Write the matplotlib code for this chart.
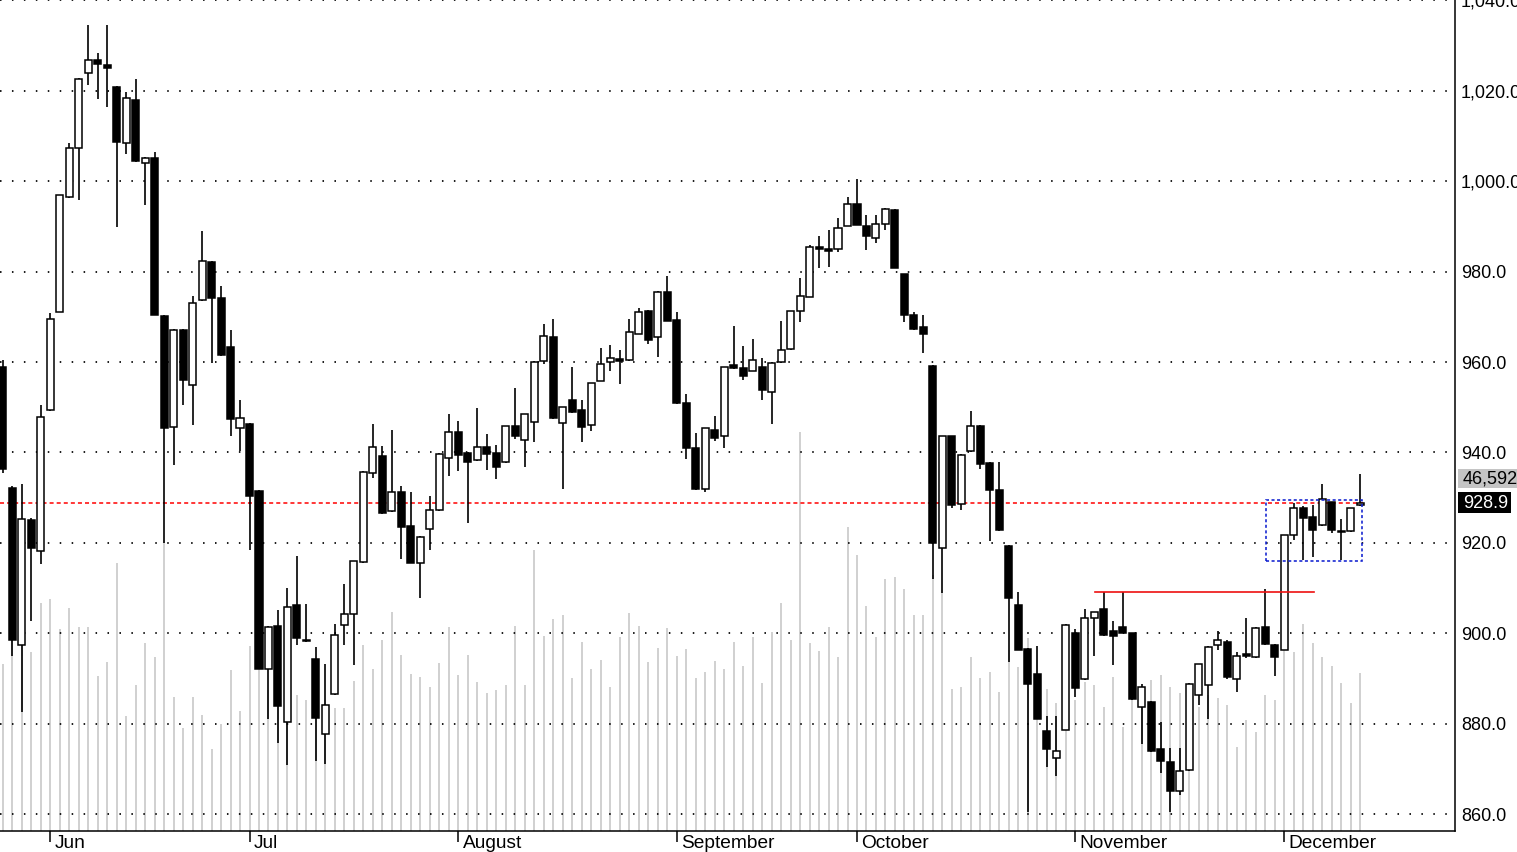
import matplotlib
matplotlib.use('Agg')
import matplotlib.pyplot as plt
from matplotlib.patches import Rectangle
from matplotlib.transforms import blended_transform_factory, ScaledTranslation

plt.rcParams['font.family'] = ['Liberation Sans', 'DejaVu Sans']
plt.rcParams['lines.scale_dashes'] = False

opens = [959.0, 932.2, 897.5, 925.1, 918.3, 949.4, 971.1, 996.6, 1007.4, 1023.9,
 1026.9, 1025.7, 1020.9, 1008.4, 1018.0, 1004.1, 1005.2, 970.1, 945.7, 967.2,
 955.0, 973.8, 982.1, 974.2, 963.4, 945.3, 946.4, 931.4, 892.2, 901.7,
 880.4, 906.3, 898.5, 894.4, 877.8, 886.5, 901.9, 904.3, 915.8, 935.5,
 939.3, 927.0, 931.3, 923.7, 915.6, 923.0, 927.2, 938.8, 944.5, 939.9,
 938.4, 941.2, 939.9, 937.8, 945.8, 942.8, 946.8, 960.3, 965.6, 946.5,
 951.6, 949.3, 946.1, 955.9, 960.0, 960.4, 960.4, 966.3, 971.3, 965.6,
 975.6, 969.3, 951.0, 941.0, 931.9, 945.0, 943.6, 959.4, 958.7, 958.1,
 958.8, 953.4, 960.0, 962.9, 971.3, 974.5, 985.5, 985.1, 985.1, 990.1,
 994.9, 990.1, 987.5, 990.5, 993.6, 979.4, 970.5, 967.7, 959.2, 918.9,
 943.6, 928.6, 940.3, 945.9, 937.7, 931.6, 919.4, 906.2, 896.6, 890.9,
 878.3, 872.5, 878.6, 900.1, 889.8, 903.3, 905.3, 900.4, 901.3, 900.0,
 883.6, 884.9, 874.5, 871.5, 865.1, 869.7, 886.4, 888.5, 897.3, 898.0,
 889.8, 895.4, 894.7, 901.3, 897.5, 896.4, 921.7, 927.6, 925.7, 923.9,
 929.0, 922.7, 922.6, 928.3]

highs = [960.5, 932.5, 933.0, 925.5, 950.5, 970.9, 997.0, 1008.5, 1022.9, 1034.5,
 1028.3, 1034.5, 1021.0, 1019.7, 1022.7, 1005.4, 1006.5, 970.3, 967.3, 967.4,
 974.6, 989.1, 982.3, 976.8, 967.1, 951.6, 946.6, 931.6, 901.7, 905.2,
 910.0, 917.1, 906.4, 897.0, 893.2, 902.1, 910.8, 916.0, 936.0, 946.3,
 941.4, 944.9, 932.5, 931.3, 921.5, 930.3, 939.8, 948.4, 946.9, 940.0,
 949.8, 944.0, 941.6, 945.9, 954.3, 948.5, 960.2, 968.5, 969.6, 950.1,
 959.0, 951.6, 955.4, 963.0, 963.7, 962.7, 969.6, 972.0, 971.5, 975.7,
 979.0, 971.0, 953.0, 944.2, 945.4, 948.1, 959.0, 967.9, 963.5, 965.1,
 960.9, 960.0, 969.1, 971.4, 978.7, 986.0, 987.9, 989.2, 991.9, 996.5,
 1000.5, 992.6, 992.6, 994.0, 993.8, 979.5, 971.0, 970.5, 959.3, 943.7,
 943.7, 939.6, 949.2, 946.0, 937.8, 937.9, 919.5, 909.1, 896.7, 897.2,
 881.7, 881.7, 902.0, 900.9, 905.4, 904.8, 909.1, 902.6, 909.1, 900.1,
 888.8, 885.0, 880.3, 874.7, 874.7, 889.0, 893.2, 897.1, 900.5, 898.5,
 895.8, 903.3, 901.3, 909.9, 897.6, 921.8, 928.8, 928.1, 928.3, 933.0,
 929.1, 925.3, 927.7, 935.3]

lows = [935.5, 895.0, 882.5, 902.7, 915.4, 949.2, 971.0, 996.4, 995.8, 1021.2,
 1018.3, 1016.5, 989.8, 1006.0, 1004.2, 994.8, 970.3, 920.0, 937.3, 950.6,
 946.0, 973.6, 959.9, 961.3, 943.7, 940.3, 918.4, 892.0, 881.0, 875.7,
 870.9, 897.3, 898.0, 871.7, 871.1, 886.3, 897.5, 893.0, 915.6, 934.4,
 926.4, 926.8, 916.5, 915.5, 907.9, 918.5, 927.0, 934.7, 935.8, 924.4,
 938.2, 936.1, 934.2, 937.7, 943.0, 936.7, 942.3, 959.6, 947.5, 932.0,
 948.8, 942.4, 944.8, 955.8, 958.1, 955.2, 960.3, 966.2, 964.1, 961.1,
 969.0, 950.8, 938.5, 931.8, 931.3, 942.6, 940.9, 958.5, 956.0, 958.0,
 951.7, 946.4, 959.9, 962.6, 968.8, 974.4, 980.7, 981.1, 984.4, 990.0,
 990.3, 984.8, 986.4, 989.3, 980.8, 968.8, 967.1, 962.0, 911.9, 908.8,
 927.7, 927.2, 940.2, 936.4, 920.5, 922.7, 893.7, 896.2, 860.4, 881.0,
 870.5, 868.5, 878.5, 885.8, 889.7, 894.9, 899.5, 892.9, 900.0, 885.3,
 875.5, 873.8, 869.0, 860.4, 864.2, 869.6, 884.1, 881.0, 896.4, 889.8,
 887.0, 894.5, 894.6, 897.5, 890.5, 896.3, 920.6, 916.2, 916.9, 923.8,
 922.1, 916.2, 922.5, 928.2]

closes = [936.3, 898.4, 925.3, 918.9, 947.8, 969.5, 996.9, 1007.4, 1022.7, 1026.9,
 1025.9, 1025.0, 1008.7, 1018.5, 1004.4, 1005.2, 970.5, 945.4, 967.1, 956.0,
 973.1, 982.4, 974.1, 961.5, 947.3, 947.7, 930.4, 892.2, 901.3, 883.9,
 905.9, 898.9, 898.2, 881.3, 884.2, 899.7, 904.3, 915.9, 935.7, 941.3,
 926.5, 931.3, 923.5, 915.6, 921.3, 927.2, 939.6, 944.5, 939.5, 937.8,
 941.2, 939.7, 936.7, 945.8, 943.7, 948.4, 960.1, 965.7, 947.6, 950.0,
 948.9, 945.6, 955.3, 959.6, 960.9, 960.3, 966.7, 971.0, 964.8, 975.6,
 969.1, 950.9, 940.9, 931.9, 945.3, 943.2, 958.9, 958.7, 957.0, 960.4,
 953.8, 959.8, 962.7, 971.3, 974.6, 985.5, 985.1, 984.6, 989.6, 994.9,
 990.4, 987.9, 990.5, 993.8, 980.9, 970.3, 967.3, 966.3, 919.9, 943.6,
 928.3, 939.5, 945.9, 937.5, 931.8, 922.8, 907.9, 896.3, 888.7, 881.1,
 874.5, 874.0, 901.8, 887.8, 903.4, 904.6, 899.6, 899.3, 900.1, 885.4,
 888.2, 873.9, 871.7, 865.1, 869.5, 888.8, 893.1, 897.0, 898.5, 890.3,
 895.0, 894.9, 901.2, 897.7, 894.7, 921.7, 927.6, 925.5, 922.8, 929.6,
 922.9, 922.4, 927.6, 928.9]

volumes = [49300, 63700, 56300, 52800, 67300, 68400, 59600, 65800, 60200, 60200,
 45700, 49900, 79100, 33900, 43100, 55500, 51300, 85800, 39500, 30400,
 39500, 34200, 24200, 31600, 47500, 35400, 54600, 56300, 41600, 38600,
 40100, 40100, 38600, 50400, 38600, 36300, 36300, 44300, 54900, 47800,
 56300, 64600, 51900, 46300, 45400, 42500, 49600, 60200, 46000, 51900,
 44000, 40700, 41600, 43100, 60500, 43100, 82900, 57500, 62500, 63700,
 45100, 55800, 47800, 50400, 42500, 57200, 64300, 60500, 49900, 54000,
 59900, 51600, 53700, 45100, 46900, 50200, 47800, 55800, 48700, 57200,
 43700, 58700, 67300, 56300, 117700, 55500, 53100, 60200, 51300, 89700,
 81400, 66400, 57200, 74300, 74900, 71400, 63700, 63700, 75500, 71100,
 41900, 42500, 51300, 45100, 46900, 41000, 53400, 48400, 56900, 50400,
 41900, 37800, 39500, 38600, 44000, 43100, 36600, 45400, 30700, 38600,
 41600, 44500, 46000, 42500, 40700, 38600, 36600, 40100, 39200, 37200,
 24800, 32700, 29200, 40100, 38600, 56300, 52800, 61100, 55500, 51300,
 48700, 43700, 37800, 46592]

month_pos = [5, 26, 48, 71, 90, 113, 135]
month_labels = ['Jun', 'Jul', 'August', 'September', 'October', 'November', 'December']
price_ticks = [860, 880, 900, 920, 940, 960, 980, 1000, 1020, 1040]
last_close = 928.9
last_volume_label = '46,592'
resistance = 909.1
resistance_span = (115.1, 138.1)
box_x = (133.1, 143.15)
box_y = (916.0, 929.4)

W, H = 1517, 852
fig = plt.figure(figsize=(W / 100, H / 100), dpi=100)
rect = [0, (H - 831) / H, 1455 / W, 831 / H]
axv = fig.add_axes(rect)
ax = fig.add_axes(rect)
ax.patch.set_visible(False)

n = len(opens)
idx = list(range(n))
XLIM = (-0.285, 153.0)

# volume
axv.vlines(idx, 0, volumes, color='#c4c4c4', lw=1.1, zorder=1)
axv.set_xlim(*XLIM)
axv.set_ylim(0, 245100)
axv.axis('off')

ax.set_xlim(*XLIM)
ax.set_ylim(856.25, 1040.1)

# grid
for p in price_ticks:
    ax.axhline(p, color='#000000', lw=1.25, dashes=(1.1, 7.5), zorder=1)

# last close dashed line
ax.plot([XLIM[0], 143.35], [last_close, last_close], color='#ff0000', lw=1.1,
        dashes=(2.9, 2.2), zorder=2)

# candles
bw = 0.74
for i in idx:
    o, h, l, c = opens[i], highs[i], lows[i], closes[i]
    ax.vlines(i, l, h, color='black', lw=1.2, zorder=3)
    bot = min(o, c)
    ht = max(abs(c - o), 0.3)
    fc = 'black' if c < o else 'white'
    ax.add_patch(Rectangle((i - bw / 2, bot), bw, ht, facecolor=fc,
                           edgecolor='black', lw=1.1, zorder=4))

# resistance line
ax.plot(list(resistance_span), [resistance, resistance], color='#ee1111', lw=1.2, zorder=5)

# blue dotted box
ax.add_patch(Rectangle((box_x[0], box_y[0]), box_x[1] - box_x[0], box_y[1] - box_y[0],
                       fill=False, edgecolor='#1020d0', lw=1.15, ls=(0, (2.2, 1.8)),
                       zorder=6))

# axes styling
for s in ['left', 'top']:
    ax.spines[s].set_visible(False)
ax.spines['right'].set_linewidth(1.1)
ax.spines['bottom'].set_linewidth(1.1)
ax.yaxis.tick_right()
ax.set_yticks(price_ticks)
ax.set_yticklabels(['{:,.1f}'.format(v) for v in price_ticks])
ax.tick_params(axis='y', length=0, pad=4.3, labelsize=13, colors='black')
ax.set_xticks(month_pos)
ax.set_xticklabels([''] * len(month_pos))
ax.tick_params(axis='x', length=7.9, width=1.1, direction='out', labelbottom=False)

trans = blended_transform_factory(ax.transData, ax.transAxes) + \
    ScaledTranslation(4.5 / 100, -16.5 / 100, fig.dpi_scale_trans)
for pos, lab in zip(month_pos, month_labels):
    ax.text(pos, 0, lab, transform=trans, ha='left', va='baseline', fontsize=13.8,
            color='black', clip_on=False)

# right-side value labels
fig.patches.append(Rectangle((1458 / W, 1 - 488 / H), 60 / W, 19 / H,
                             transform=fig.transFigure, facecolor='#c4c4c4',
                             edgecolor='none'))
fig.text(1463 / W, 1 - 479 / H, last_volume_label, ha='left', va='center',
         fontsize=13, color='black')
fig.patches.append(Rectangle((1458 / W, 1 - 513 / H), 53 / W, 21 / H,
                             transform=fig.transFigure, facecolor='black',
                             edgecolor='none'))
fig.text(1463 / W, 1 - 503 / H, '{:.1f}'.format(last_close), ha='left', va='center',
         fontsize=13, color='white')

fig.savefig('out.png', dpi=100)
